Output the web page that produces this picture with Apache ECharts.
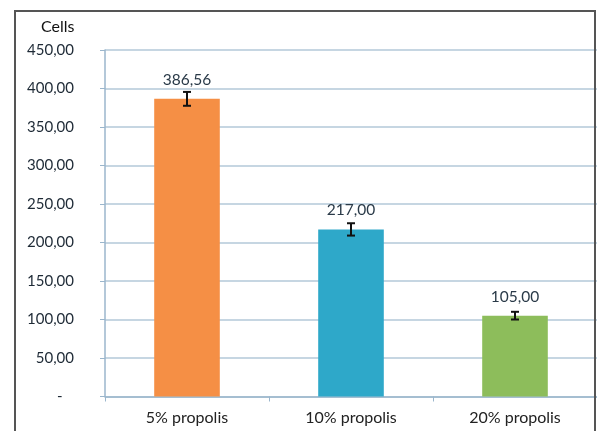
<!DOCTYPE html>
<html><head><meta charset="utf-8">
<script src="https://cdn.jsdelivr.net/npm/echarts@6/dist/echarts.min.js"></script>
<style>html,body{margin:0;padding:0;background:#fff}#c{width:597px;height:431px}</style>
</head><body><div id="c"></div>
<script>
const categories = ['5% propolis', '10% propolis', '20% propolis'];
const values = [386.56, 217.00, 105.00];
const errors = [9, 8, 5];
const barColors = ['#f58f45', '#2ea8c9', '#8dbd5b'];
const yTicks = [0, 50, 100, 150, 200, 250, 300, 350, 400, 450];

const fmt = v => v.toFixed(2).replace('.', ',');
const FONT = 'Lato';
const chart = echarts.init(document.getElementById('c'), null, {renderer: 'canvas'});
chart.setOption({
  animation: false,
  title: {text: 'Cells', left: 36, top: 14, textStyle: {fontFamily: FONT, fontSize: 16, fontWeight: 'normal', color: '#111'}},
  grid: {left: 105, right: 0, top: 50, bottom: 34.5},
  graphic: [
    {type: 'polyline', silent: true, z: 100, shape: {points: [[15, 431], [15, 11], [595, 11], [595, 431]]}, style: {stroke: '#555', lineWidth: 2, fill: null}}
  ],
  xAxis: {
    type: 'category', data: categories,
    axisLine: {lineStyle: {color: '#9bb6cc', width: 1.5}},
    axisTick: {show: true, length: 5, lineStyle: {color: '#9bb6cc'}},
    axisLabel: {fontFamily: FONT, fontSize: 16, color: '#222', margin: 13}
  },
  yAxis: {
    type: 'value', min: yTicks[0], max: yTicks[yTicks.length - 1], interval: 50,
    axisLine: {show: true, lineStyle: {color: '#9bb6cc', width: 1.5}},
    axisTick: {show: true, length: 5, lineStyle: {color: '#9bb6cc'}},
    splitLine: {lineStyle: {color: '#b3c8d8', width: 1.5}},
    axisLabel: {fontFamily: FONT, fontSize: 15, color: '#1e2a36', margin: 31,
      formatter: v => v === 0 ? '-   ' : fmt(v)}
  },
  series: [
    {
      type: 'bar', barWidth: '40%',
      data: values.map((v, i) => ({value: v, itemStyle: {color: barColors[i]}})),
      label: {show: true, position: 'top', distance: 11, fontFamily: FONT, fontSize: 15.5, color: '#2a3a48', formatter: p => fmt(p.value)}
    },
    {
      type: 'custom', z: 5,
      data: values.map((v, i) => [i, v - errors[i], v + errors[i]]),
      renderItem: (params, api) => {
        const lo = api.coord([api.value(0), api.value(1)]);
        const hi = api.coord([api.value(0), api.value(2)]);
        const x = lo[0], hw = 4;
        const st = {stroke: '#111', lineWidth: 2};
        return {type: 'group', children: [
          {type: 'line', shape: {x1: x, y1: lo[1], x2: x, y2: hi[1]}, style: st},
          {type: 'line', shape: {x1: x - hw, y1: lo[1], x2: x + hw, y2: lo[1]}, style: st},
          {type: 'line', shape: {x1: x - hw, y1: hi[1], x2: x + hw, y2: hi[1]}, style: st}
        ]};
      }
    }
  ]
});
</script></body></html>
